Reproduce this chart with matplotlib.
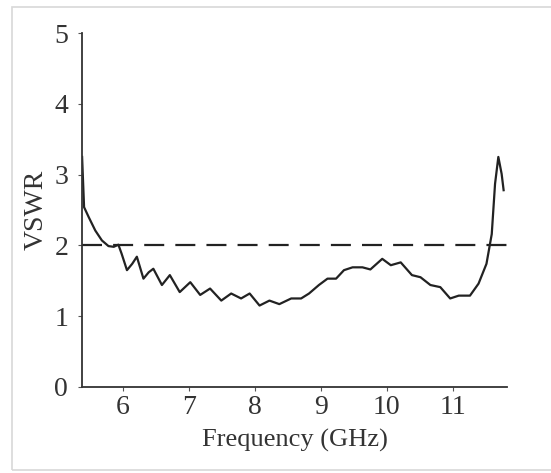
import matplotlib
matplotlib.use("Agg")
import matplotlib.pyplot as plt
from matplotlib.patches import Rectangle

freq_ghz = [5.38, 5.41, 5.48, 5.58, 5.68, 5.78, 5.86, 5.93, 5.98, 6.06, 6.14, 6.21,
            6.31, 6.39, 6.46, 6.59, 6.71, 6.86, 7.02, 7.17, 7.32, 7.49, 7.64, 7.79,
            7.92, 8.07, 8.22, 8.37, 8.55, 8.70, 8.82, 8.97, 9.10, 9.23, 9.35, 9.48,
            9.63, 9.75, 9.93, 10.06, 10.21, 10.38, 10.51, 10.66, 10.81, 10.96, 11.09,
            11.26, 11.39, 11.51, 11.59, 11.64, 11.69, 11.74, 11.77]
vswr = [3.25, 2.54, 2.40, 2.21, 2.07, 1.99, 1.98, 2.01, 1.88, 1.65, 1.74, 1.84,
        1.53, 1.62, 1.67, 1.44, 1.58, 1.34, 1.48, 1.30, 1.39, 1.22, 1.32, 1.25,
        1.32, 1.15, 1.22, 1.17, 1.25, 1.25, 1.32, 1.44, 1.53, 1.53, 1.65, 1.69,
        1.69, 1.66, 1.81, 1.72, 1.76, 1.58, 1.55, 1.44, 1.41, 1.25, 1.29,
        1.29, 1.46, 1.74, 2.16, 2.87, 3.25, 3.01, 2.78]
threshold = 2.0
x_ticks = [6, 7, 8, 9, 10, 11]
y_ticks = [0, 1, 2, 3, 4, 5]

plt.rcParams['font.family'] = ['Liberation Serif', 'DejaVu Serif']

fig = plt.figure(figsize=(5.51, 4.73), dpi=100)
fig.patches.append(Rectangle((12/551, 3/473), 1.0, 0.978, transform=fig.transFigure,
                             fill=False, edgecolor='#d8d8d8', linewidth=1.2))
ax = fig.add_axes([0.149, 0.182, 0.771, 0.748])

ax.plot(freq_ghz, vswr, color='#222222', linewidth=1.6)
ax.axhline(threshold, color='#222222', linewidth=1.6, linestyle=(0, (9, 5)))

ax.set_xlim(5.38, 11.82)
ax.set_ylim(0, 5)
ax.set_xticks(x_ticks)
ax.set_yticks(y_ticks)
for s in ['top', 'right']:
    ax.spines[s].set_visible(False)
for s in ['left', 'bottom']:
    ax.spines[s].set_color('#333333')
    ax.spines[s].set_linewidth(1.3)
ax.tick_params(axis='both', labelsize=20, length=3, color='#555555', labelcolor='#333333')
ax.tick_params(axis='y', pad=7)
ax.tick_params(axis='x', pad=3)
ax.set_xlabel('Frequency (GHz)', fontsize=19, color='#333333', labelpad=6)
ax.set_ylabel('VSWR', fontsize=20, color='#333333', labelpad=4)

fig.savefig('out.png', dpi=100)
